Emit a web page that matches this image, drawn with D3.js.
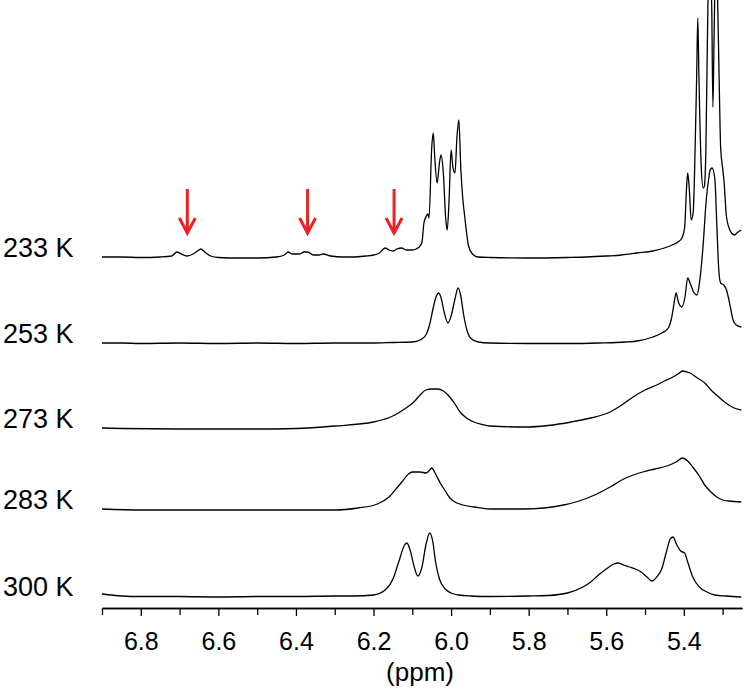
<!DOCTYPE html>
<html>
<head>
<meta charset="utf-8">
<script src="https://cdn.jsdelivr.net/npm/d3@7/dist/d3.min.js"></script>
<style>
  body { margin: 0; background: #fff; }
  text { font-family: "Liberation Sans", Arial, sans-serif; fill: #000; }
</style>
</head>
<body>
<div id="chart"></div>
<script>
// Spectra: [ppm, intensity above the trace baseline]
const temperatures = ["233 K", "253 K", "273 K", "283 K", "300 K"];

const spec233 = [
  [6.90, 1], [6.85, 1], [6.80, 0.5], [6.75, 1], [6.72, 2], [6.707, 6], [6.69, 3], [6.68, 2],
  [6.665, 4], [6.65, 8], [6.645, 9], [6.635, 6], [6.62, 2], [6.60, 0.5], [6.55, 0], [6.50, 0],
  [6.45, 1], [6.43, 3], [6.42, 6], [6.41, 4], [6.39, 4], [6.38, 6], [6.37, 6], [6.355, 3],
  [6.34, 3], [6.33, 4], [6.31, 2], [6.28, 1], [6.25, 1], [6.22, 2], [6.20, 3], [6.185, 5],
  [6.17, 10], [6.16, 8], [6.15, 7], [6.14, 9], [6.128, 10], [6.115, 8], [6.10, 8], [6.09, 9],
  [6.08, 12], [6.075, 16], [6.07, 35], [6.065, 41], [6.06, 44], [6.057, 40], [6.05, 110],
  [6.046, 125], [6.042, 100], [6.036, 75], [6.03, 95], [6.026, 103], [6.02, 85], [6.014, 40],
  [6.01, 28], [6.005, 60], [6.0, 108], [5.995, 90], [5.99, 85], [5.985, 120], [5.98, 138],
  [5.975, 90], [5.97, 60], [5.965, 42], [5.96, 25], [5.955, 12], [5.945, 4], [5.93, 1],
  [5.90, 0.5], [5.80, 0], [5.70, 0.5], [5.65, 1], [5.60, 2], [5.56, 3], [5.52, 5], [5.48, 7],
  [5.45, 10], [5.43, 13], [5.415, 16], [5.405, 20], [5.398, 30], [5.393, 70], [5.39, 85],
  [5.386, 70], [5.381, 38], [5.376, 45], [5.372, 90], [5.367, 180], [5.364, 240], [5.361, 180],
  [5.355, 90], [5.35, 70], [5.347, 72], [5.343, 110], [5.338, 250], [5.333, 300], [5.328, 250],
  [5.325, 151], [5.322, 220], [5.318, 300], [5.313, 260], [5.309, 180], [5.305, 110], [5.30, 90],
  [5.296, 75], [5.29, 41], [5.28, 27], [5.27, 23], [5.26, 26], [5.252, 28]
];

const spec253 = [
  [6.90, 1], [6.85, 1], [6.80, 0.5], [6.70, 1], [6.60, 0.5], [6.50, 1], [6.40, 0.5], [6.30, 1],
  [6.20, 1], [6.15, 1.5], [6.10, 2], [6.08, 4], [6.065, 9], [6.055, 20], [6.045, 38], [6.038, 48],
  [6.032, 51], [6.025, 45], [6.018, 32], [6.008, 21], [6.0, 28], [5.99, 45], [5.982, 56],
  [5.975, 48], [5.968, 30], [5.96, 15], [5.95, 6], [5.93, 2], [5.90, 1], [5.80, 0.5], [5.70, 0.5],
  [5.62, 1], [5.55, 2], [5.52, 3], [5.48, 7], [5.457, 11], [5.44, 16], [5.431, 27], [5.425, 41],
  [5.42, 51], [5.414, 42], [5.405, 37], [5.397, 47], [5.39, 66], [5.383, 60], [5.375, 52],
  [5.366, 49], [5.36, 60], [5.35, 100], [5.343, 140], [5.336, 165], [5.332, 174], [5.327, 176],
  [5.32, 165], [5.315, 120], [5.31, 75], [5.305, 61], [5.297, 59], [5.29, 54], [5.28, 37],
  [5.273, 24], [5.265, 19], [5.252, 17]
];

const spec273 = [
  [6.90, 1], [6.85, 0.5], [6.70, 0], [6.50, 0], [6.40, 0.5], [6.30, 3], [6.20, 7], [6.145, 14],
  [6.12, 20], [6.096, 27], [6.08, 34], [6.065, 39], [6.05, 40], [6.034, 40], [6.02, 38],
  [6.008, 34], [5.99, 25], [5.977, 17], [5.96, 11], [5.941, 7], [5.92, 4.5], [5.90, 3],
  [5.81, 2], [5.75, 3.5], [5.69, 7], [5.64, 11], [5.59, 17], [5.56, 24], [5.531, 32], [5.50, 39],
  [5.47, 44], [5.45, 48], [5.433, 51], [5.415, 55], [5.403, 58], [5.392, 57], [5.384, 56],
  [5.365, 51], [5.346, 46], [5.33, 39], [5.31, 32], [5.295, 27], [5.284, 24], [5.27, 21],
  [5.252, 19]
];

const spec283 = [
  [6.90, 1], [6.80, 0], [6.60, 0], [6.40, 0], [6.30, 0], [6.24, 2], [6.19, 6], [6.16, 13],
  [6.14, 22], [6.127, 28], [6.11, 36], [6.10, 38], [6.08, 38], [6.065, 37], [6.055, 40],
  [6.05, 42], [6.04, 36], [6.028, 27], [6.015, 19], [6.003, 12], [5.985, 7], [5.97, 5],
  [5.94, 3], [5.90, 1], [5.81, 1], [5.71, 5], [5.67, 9], [5.63, 15], [5.59, 23], [5.555, 31],
  [5.53, 35], [5.506, 38], [5.475, 41], [5.444, 44], [5.42, 48], [5.403, 52], [5.39, 49],
  [5.377, 43], [5.36, 34], [5.346, 25], [5.33, 18], [5.315, 13], [5.30, 10], [5.284, 9],
  [5.252, 8]
];

const spec300 = [
  [6.90, 3], [6.85, 1], [6.80, 0.5], [6.70, 0.5], [6.60, 0], [6.50, 0.5], [6.40, 0.5], [6.30, 1],
  [6.25, 1], [6.20, 2], [6.17, 7], [6.15, 18], [6.135, 35], [6.12, 52], [6.114, 54], [6.105, 46],
  [6.095, 30], [6.086, 21], [6.075, 30], [6.065, 52], [6.055, 64], [6.047, 55], [6.04, 35],
  [6.03, 18], [6.015, 8], [6.00, 4], [5.98, 2], [5.95, 1], [5.90, 0.5], [5.80, 1], [5.75, 1.5],
  [5.70, 4], [5.66, 10], [5.64, 15], [5.62, 22], [5.60, 28], [5.58, 33], [5.57, 34], [5.555, 32],
  [5.54, 30], [5.525, 28], [5.51, 25], [5.495, 20], [5.482, 16], [5.47, 20], [5.457, 28],
  [5.445, 45], [5.435, 58], [5.428, 60], [5.418, 52], [5.408, 46], [5.398, 44], [5.39, 35],
  [5.377, 20], [5.36, 10], [5.34, 5], [5.32, 2], [5.29, 1], [5.252, 0]
];

const spectra = [spec233, spec253, spec273, spec283, spec300];

const majorTicks = [6.8, 6.6, 6.4, 6.2, 6.0, 5.8, 5.6, 5.4];
const minorTicks = [6.9, 6.7, 6.5, 6.3, 6.1, 5.9, 5.7, 5.5, 5.3];
const arrowPpm = [6.68, 6.37, 6.147];
const axisTitle = "(ppm)";

// Layout
const width = 746, height = 694;
const traceBase = [258, 344, 429, 510, 597];
const axisY = 608;

const svg = d3.select("#chart").append("svg")
  .attr("width", width)
  .attr("height", height);

const x = d3.scaleLinear()
  .domain([6.9, 5.25])
  .range([102, 742]);

// one pixel per intensity unit, upwards
const y = d3.scaleLinear()
  .domain([0, 100])
  .range([0, -100]);

const line = d3.line()
  .x(d => x(d[0]))
  .y(d => y(d[1]))
  .curve(d3.curveMonotoneX);

const traces = svg.selectAll("g.trace")
  .data(spectra)
  .enter()
  .append("g")
  .attr("class", "trace")
  .attr("transform", (d, i) => "translate(0," + traceBase[i] + ")");

traces.append("path")
  .attr("fill", "none")
  .attr("stroke", "#000")
  .attr("stroke-width", 1.3)
  .attr("stroke-linejoin", "round")
  .attr("d", line);

traces.append("text")
  .attr("x", 3)
  .attr("y", -1)
  .style("font-size", "27px")
  .text((d, i) => temperatures[i]);

// Arrows over the 233 K trace
const arrows = svg.selectAll("g.arrow")
  .data(arrowPpm)
  .enter()
  .append("g")
  .attr("class", "arrow")
  .attr("transform", d => "translate(" + x(d) + ",0)")
  .attr("stroke", "#ee2024")
  .attr("stroke-width", 3)
  .attr("fill", "none");

arrows.append("line")
  .attr("x1", 0).attr("x2", 0)
  .attr("y1", 189).attr("y2", 233);

arrows.append("path")
  .attr("stroke-linejoin", "miter")
  .attr("d", "M-8,218L0,233L8,218");

// Axes
const major = d3.axisBottom(x)
  .tickValues(majorTicks)
  .tickFormat(d3.format(".1f"))
  .tickSize(8)
  .tickSizeOuter(0)
  .tickPadding(16);

const minor = d3.axisBottom(x)
  .tickValues(minorTicks)
  .tickFormat("")
  .tickSize(7)
  .tickSizeOuter(0);

const gMinor = svg.append("g")
  .attr("transform", "translate(0," + axisY + ")")
  .call(minor);

const gMajor = svg.append("g")
  .attr("transform", "translate(0," + axisY + ")")
  .call(major);

svg.selectAll(".domain").attr("stroke", "#000").attr("stroke-width", 1.3);
svg.selectAll(".tick line").attr("stroke", "#000").attr("stroke-width", 1.3);
gMajor.selectAll(".tick text")
  .style("font-size", "25px")
  .style("font-family", "'Liberation Sans', Arial, sans-serif");

svg.append("text")
  .attr("x", 420)
  .attr("y", 681)
  .attr("text-anchor", "middle")
  .style("font-size", "26px")
  .text(axisTitle);
</script>
</body>
</html>
